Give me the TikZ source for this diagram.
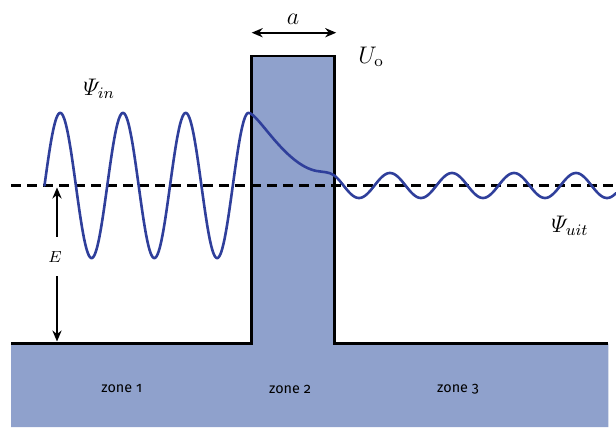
\documentclass[tikz,border=0pt]{standalone}
\usepackage{amsmath}
\usepackage{fontspec}
\newfontfamily\zonefont[Numbers=OldStyle]{Fira Sans}
\usetikzlibrary{arrows.meta}
\definecolor{barrierblue}{RGB}{143,161,204}
\definecolor{wavecol}{RGB}{47,63,155}
\tikzset{
  outline/.style={line width=1.35pt, black, line join=miter},
  wave/.style={line width=1.3pt, wavecol, line cap=round, line join=round},
  energy/.style={line width=1.1pt, black, dash pattern=on 5pt off 3pt},
  dimarrow/.style={line width=1.05pt, black, -{Stealth[length=5.5pt,width=4.6pt]}},
  zonelabel/.style={font=\zonefont\fontsize{7.2}{8.5}\selectfont, inner sep=0pt},
  mathlabel/.style={font=\fontsize{12}{14}\selectfont, inner sep=0pt},
}
\begin{document}
\begin{tikzpicture}[x=0.5pt,y=-0.5pt]
\useasboundingbox (0,0) rectangle (616,428);
% coordinates
\coordinate (gl) at (11,343.5);
\coordinate (bl) at (251.5,343.5);
\coordinate (tl) at (251.5,56);
\coordinate (tr) at (334.3,56);
\coordinate (br) at (334.3,343.5);
\coordinate (gr) at (608.3,343.5);
\coordinate (bottomr) at (608.3,427);
\coordinate (bottoml) at (11,427);
% fill
\fill[barrierblue] (gl) -- (bl) -- (tl) -- (tr) -- (br) -- (gr) -- (bottomr) -- (bottoml) -- cycle;
% energy level
\coordinate (el) at (11,185.5);
\coordinate (er) at (616,185.5);
\draw[energy] (el) -- (er);
% potential outline
\draw[outline] (gl) -- (bl) -- (tl) -- (tr) -- (br) -- (gr);
% wave
\coordinate (w1) at (248.5,112.9);
\coordinate (w2) at (316.7,171);
\coordinate (w3) at (334.3,175.5);
\draw[wave]
  plot[domain=44.5:248.5, samples=240] (\x,{185.5-72.6*sin(5.73522*(\x-44.5))})
  .. controls (258,112.9) and (285,165) .. (w2)
  .. controls (322.7,172.1) and (329.3,171.7) .. (w3)
  -- plot[domain=334.3:616, samples=200] (\x,{185.5-12.5*sin(5.80645*(\x-374.5))});
% width arrow
\coordinate (al) at (251.7,32.7);
\coordinate (ar) at (336.2,32.7);
\draw[dimarrow, {Stealth[length=5.5pt,width=4.6pt]}-{Stealth[length=5.5pt,width=4.6pt]}] (al) -- (ar);
\node[mathlabel, font=\fontsize{13}{15}\selectfont, anchor=base] (alab) at (293,25) {$a$};
% labels
\node[mathlabel, anchor=base west] (ulab) at (358,63) {$U_{\mathrm{o}}$};
\node[mathlabel, anchor=base west] (psiin) at (83,95) {$\varPsi_{in}$};
\node[mathlabel, anchor=base west] (psiuit) at (551,232) {$\varPsi_{uit}$};
% energy arrow
\node[font=\fontsize{8.5}{10}\selectfont, inner sep=0pt] (elab) at (55,257.5) {$E$};
\coordinate (etop) at (57,187.5);
\coordinate (ebot) at (57,341.5);
\draw[dimarrow] (57,236.7) -- (etop);
\draw[dimarrow] (57,276) -- (ebot);
% zones
\node[zonelabel] (z1) at (121.7,389) {zone 1};
\node[zonelabel] (z2) at (290,389) {zone 2};
\node[zonelabel] (z3) at (458,389) {zone 3};
\end{tikzpicture}
\end{document}
